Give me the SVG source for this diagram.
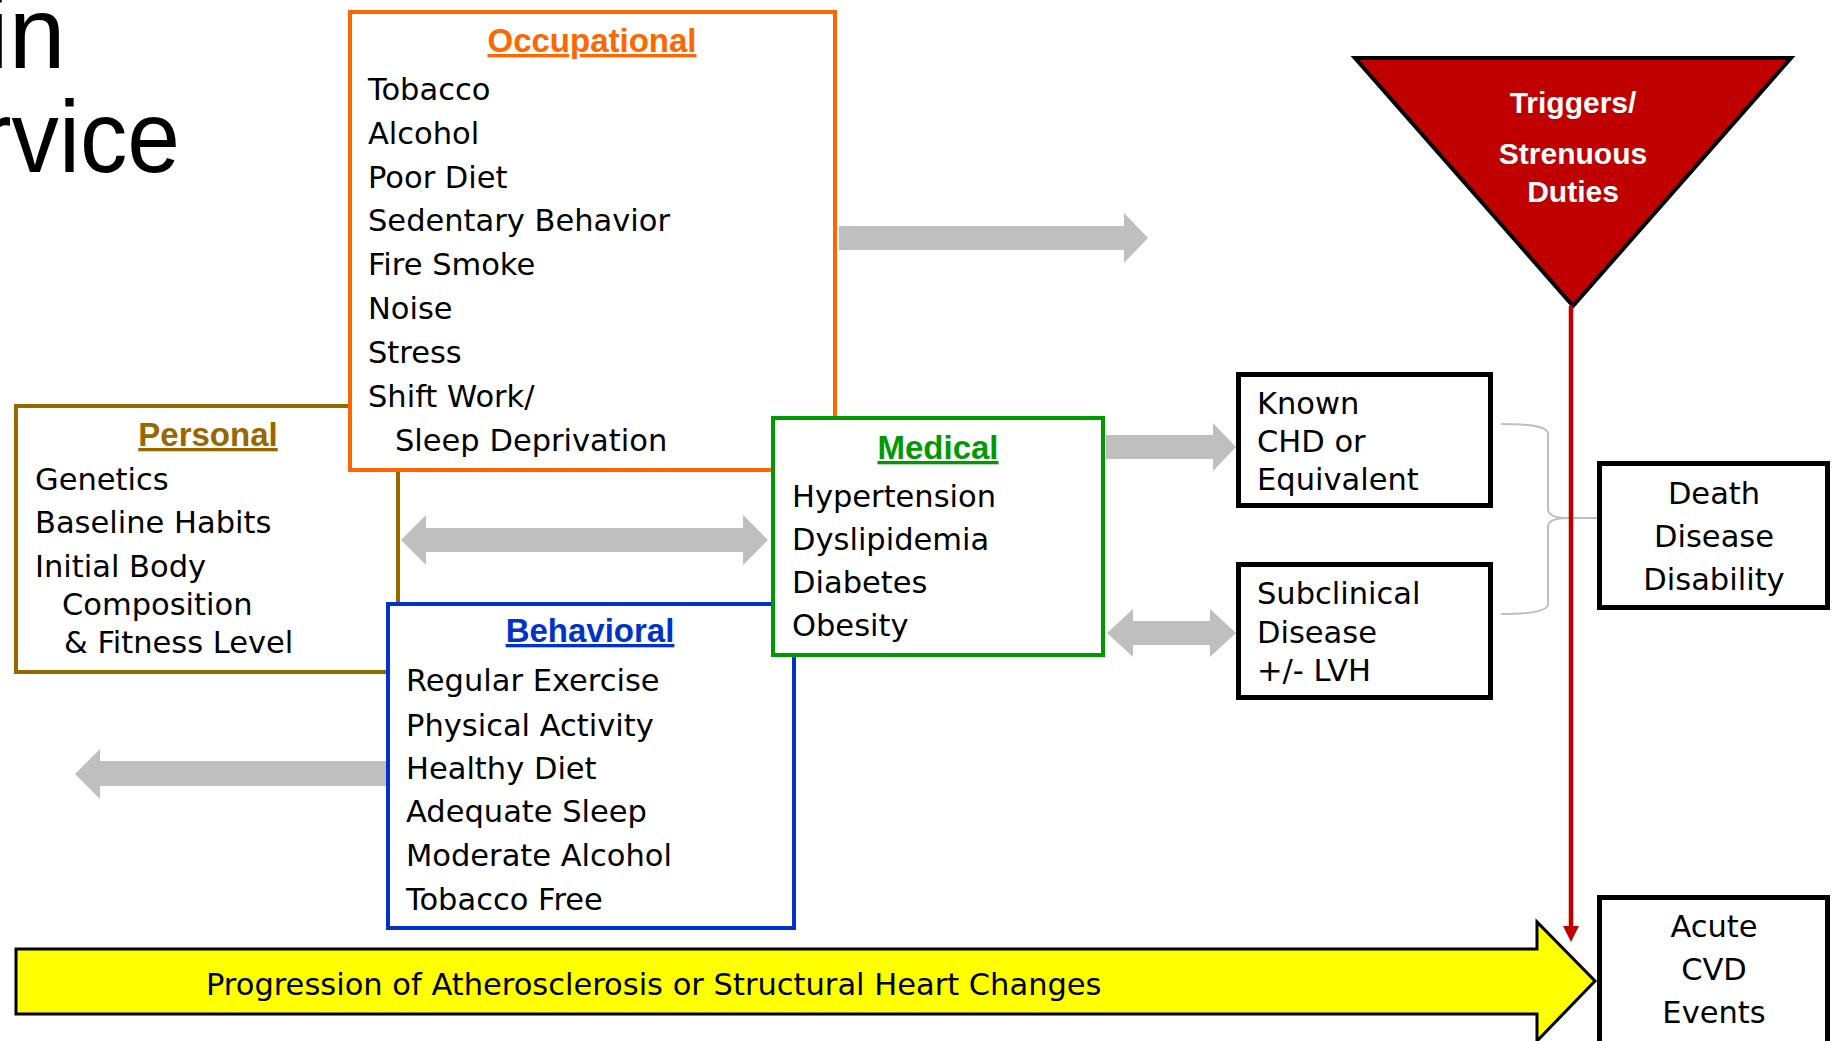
<svg xmlns="http://www.w3.org/2000/svg" width="1832" height="1041" viewBox="0 0 1832 1041">
<style>
.body{font-family:"DejaVu Sans","Liberation Sans",sans-serif;font-size:30.5px;fill:#000}
.ttl{font-family:"Liberation Sans",Arial,sans-serif;font-size:33px;font-weight:bold;text-decoration:underline;text-anchor:middle}
.tri{font-family:"Liberation Sans",Arial,sans-serif;font-size:30px;font-weight:bold;fill:#fff;text-anchor:middle}
.mid{text-anchor:middle}
.box{fill:#fff;stroke-width:4}
.kbox{fill:#fff;stroke:#000;stroke-width:5}
.gray{fill:#BFBFBF}
</style>
<rect width="1832" height="1041" fill="#fff"/>
<g id="title">
<text x="-14" y="68" font-family="Liberation Sans,Arial,sans-serif" font-size="102" fill="#000">in</text>
<text x="-20" y="172" font-family="Liberation Sans,Arial,sans-serif" font-size="102" fill="#000" textLength="200" lengthAdjust="spacingAndGlyphs">rvice</text>
</g>
<g id="personal">
<rect class="box" x="16" y="406" width="382" height="266" stroke="#996600"/>
<text class="ttl" x="208" y="446" fill="#996600">Personal</text>
<text class="body" x="35" y="490">Genetics</text>
<text class="body" x="35" y="533">Baseline Habits</text>
<text class="body" x="35" y="577">Initial Body</text>
<text class="body" x="62" y="615">Composition</text>
<text class="body" x="64" y="653">&amp; Fitness Level</text>
</g>
<g id="occupational">
<rect class="box" x="350" y="12" width="485" height="458" stroke="#FF6600"/>
<text class="ttl" x="592" y="52" fill="#FF6600">Occupational</text>
<text class="body" x="368" y="100">Tobacco</text>
<text class="body" x="368" y="144">Alcohol</text>
<text class="body" x="368" y="188">Poor Diet</text>
<text class="body" x="368" y="231">Sedentary Behavior</text>
<text class="body" x="368" y="275">Fire Smoke</text>
<text class="body" x="368" y="319">Noise</text>
<text class="body" x="368" y="363">Stress</text>
<text class="body" x="368" y="407">Shift Work/</text>
<text class="body" x="395" y="451">Sleep Deprivation</text>
</g>
<g id="behavioral">
<rect class="box" x="388" y="604" width="406" height="324" stroke="#0033CC"/>
<text class="ttl" x="590" y="642" fill="#0033CC">Behavioral</text>
<text class="body" x="406" y="691">Regular Exercise</text>
<text class="body" x="406" y="736">Physical Activity</text>
<text class="body" x="406" y="779">Healthy Diet</text>
<text class="body" x="406" y="822">Adequate Sleep</text>
<text class="body" x="406" y="866">Moderate Alcohol</text>
<text class="body" x="406" y="910">Tobacco Free</text>
</g>
<g id="medical">
<rect class="box" x="773" y="418" width="330" height="237" stroke="#009900"/>
<text class="ttl" x="938" y="459" fill="#009900">Medical</text>
<text class="body" x="792" y="507">Hypertension</text>
<text class="body" x="792" y="550">Dyslipidemia</text>
<text class="body" x="792" y="593">Diabetes</text>
<text class="body" x="792" y="636">Obesity</text>
</g>
<g id="known">
<rect class="kbox" x="1238.5" y="374.5" width="252" height="131"/>
<text class="body" x="1257" y="414">Known</text>
<text class="body" x="1257" y="452">CHD or</text>
<text class="body" x="1257" y="490">Equivalent</text>
</g>
<g id="subclinical">
<rect class="kbox" x="1238.5" y="564.5" width="252" height="133"/>
<text class="body" x="1257" y="604">Subclinical</text>
<text class="body" x="1257" y="643">Disease</text>
<text class="body" x="1257" y="681">+/- LVH</text>
</g>
<g id="outcomes">
<rect class="kbox" x="1599.5" y="463.5" width="228" height="144"/>
<text class="body mid" x="1714" y="504">Death</text>
<text class="body mid" x="1714" y="547">Disease</text>
<text class="body mid" x="1714" y="590">Disability</text>
</g>
<g id="acute">
<rect class="kbox" x="1599.5" y="897.5" width="228" height="150"/>
<text class="body mid" x="1714" y="937">Acute</text>
<text class="body mid" x="1714" y="980">CVD</text>
<text class="body mid" x="1714" y="1023">Events</text>
</g>
<g id="triggers">
<polygon points="1355,58 1791,58 1573,306" fill="#C00000" stroke="#000" stroke-width="4" stroke-linejoin="miter"/>
<text class="tri" x="1573" y="113">Triggers/</text>
<text class="tri" x="1573" y="164">Strenuous</text>
<text class="tri" x="1573" y="202">Duties</text>
</g>
<g id="progression">
<polygon points="16,949 1537,949 1537,922 1595,981 1537,1041 1537,1014 16,1014" fill="#FFFF00" stroke="#000" stroke-width="3"/>
<text class="body" x="206" y="995" font-size="30">Progression of Atherosclerosis or Structural Heart Changes</text>
</g>
<g id="connectors">
<polygon class="gray" points="839,226 1124,226 1124,213 1148,238 1124,263 1124,250 839,250"/>
<polygon class="gray" points="401,540 426,515 426,528 743,528 743,515 768,540 743,565 743,552 426,552 426,565"/>
<polygon class="gray" points="386,761 100,761 100,749 75,774 100,799 100,786 386,786"/>
<polygon class="gray" points="1106,435 1213,435 1213,423 1236,447 1213,471 1213,459 1106,459"/>
<polygon class="gray" points="1107,633 1133,609 1133,621 1210,621 1210,609 1236,633 1210,657 1210,645 1133,645 1133,657"/>
<path d="M1501,424 C1530,424 1548,426 1548,434 L1548,509 C1548,515 1556,518 1568,518 L1597,518 M1568,518 C1556,518 1548,521 1548,527 L1548,604 C1548,611 1530,614 1501,614" fill="none" stroke="#BFBFBF" stroke-width="2"/>
<line x1="1571" y1="306" x2="1571" y2="928" stroke="#C00000" stroke-width="4.5"/>
<polygon points="1563,926 1579,926 1571,942" fill="#C00000"/>
</g>
</svg>
